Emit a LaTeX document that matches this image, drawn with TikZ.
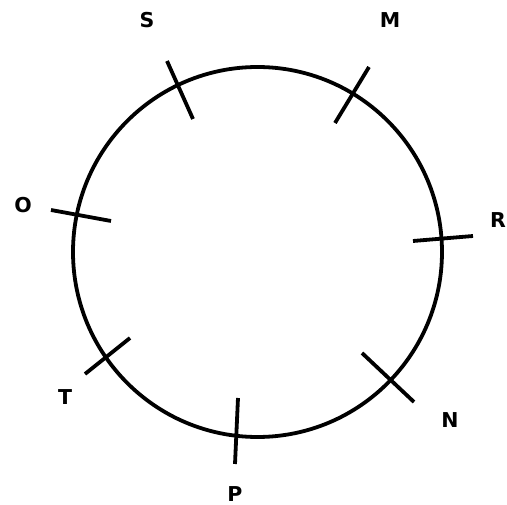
\documentclass[tikz,border=0pt]{standalone}
\usepackage{fontspec}
\setmainfont{DejaVu Sans}
\begin{document}
\begin{tikzpicture}[x=1pt,y=-1pt,
  ring/.style={line width=3.8pt, black},
  tick/.style={line width=3.8pt, black},
  lbl/.style={font=\fontsize{20.5}{20.5}\selectfont\bfseries, inner sep=0pt, text=black}]
\useasboundingbox (0,0) rectangle (507,505);
\fill[white] (0,0) rectangle (507,505);
\draw[ring] (257.5,252) ellipse [x radius=184.5, y radius=185];
% ticks
\draw[tick] (167,61) -- (193,119);
\draw[tick] (369,67) -- (335,123);
\draw[tick] (51,210) -- (111,221);
\draw[tick] (413,241) -- (473,236);
\draw[tick] (130,338) -- (85,374);
\draw[tick] (362,353) -- (414,402);
\draw[tick] (238,398) -- (235,464);
% labels
\node[lbl] (S) at (147,20) {S};
\node[lbl] (M) at (390,20) {M};
\node[lbl] (O) at (23,205) {O};
\node[lbl] (R) at (498,220) {R};
\node[lbl] (T) at (65,397) {T};
\node[lbl] (N) at (450,420) {N};
\node[lbl] (P) at (235,494) {P};
\end{tikzpicture}
\end{document}
